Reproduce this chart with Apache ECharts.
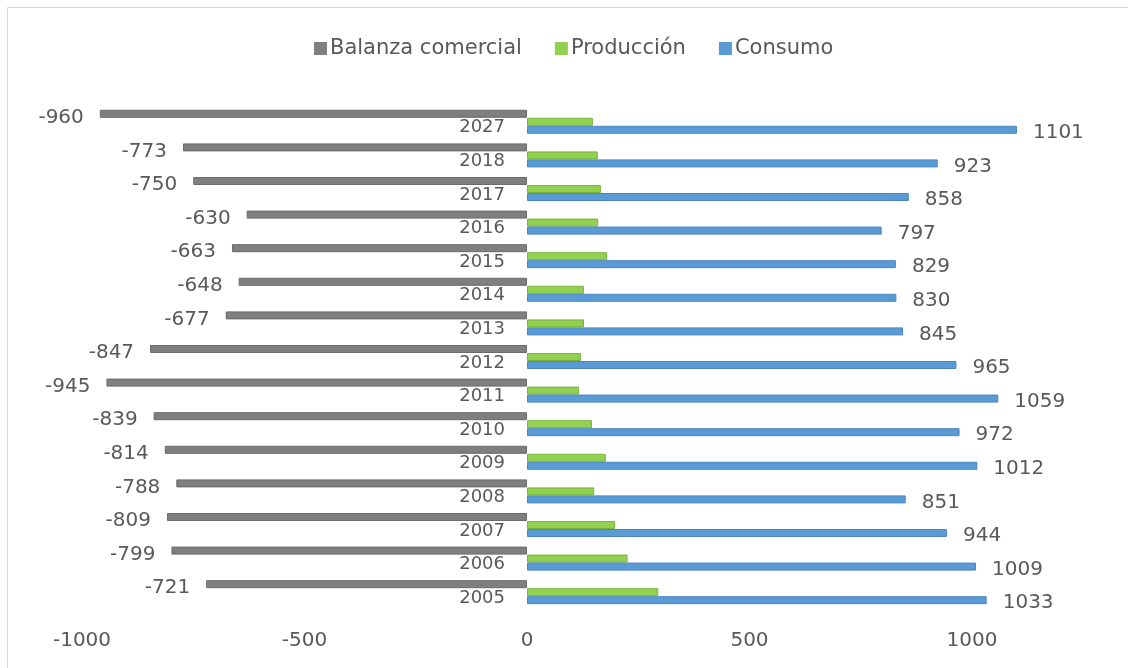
<!DOCTYPE html>
<html>
<head>
<meta charset="utf-8">
<script src="https://cdn.jsdelivr.net/npm/echarts@6/dist/echarts.min.js"></script>
<style>
  html, body { margin: 0; padding: 0; background: #ffffff; }
  #chart { width: 1128px; height: 668px; }
</style>
</head>
<body>
<div id="chart"></div>
<script>
// Years, bottom to top
const years = ['2005', '2006', '2007', '2008', '2009', '2010', '2011', '2012', '2013', '2014', '2015', '2016', '2017', '2018', '2027'];

// Trade balance, production and consumption (kt)
const balanza = [-721, -799, -809, -788, -814, -839, -945, -847, -677, -648, -663, -630, -750, -773, -960];
const produccion = [295, 226, 198, 151, 177, 146, 117, 121, 128, 128, 180, 160, 166, 159, 148];
const consumo = [1033, 1009, 944, 851, 1012, 972, 1059, 965, 845, 830, 829, 797, 858, 923, 1101];

const xTicks = { min: -1000, max: 1200, interval: 500 };

const FONT = '"DejaVu Sans", "Liberation Sans", sans-serif';
const TEXT = '#595959';

const GRID_LEFT = 82;
const GRID_RIGHT = 67;
const plotWidth = 1128 - GRID_LEFT - GRID_RIGHT;
// shift the year axis from the left edge onto the zero line
const zeroShift = plotWidth * (0 - xTicks.min) / (xTicks.max - xTicks.min);

const chart = echarts.init(document.getElementById('chart'), null, { renderer: 'canvas' });

chart.setOption({
  animation: false,
  backgroundColor: '#ffffff',
  textStyle: { fontFamily: FONT },
  graphic: [{
    type: 'rect',
    shape: { x: 7.5, y: 7.5, width: 1200, height: 800 },
    style: { fill: 'none', stroke: '#d9d9d9', lineWidth: 1 },
    silent: true
  }],
  legend: {
    data: ['Balanza comercial', 'Producción', 'Consumo'],
    left: 309,
    top: 33,
    itemWidth: 13,
    itemHeight: 13,
    itemGap: 33,
    icon: 'rect',
    itemStyle: { borderWidth: 0 },
    textStyle: { fontFamily: FONT, fontSize: 21, color: TEXT, padding: [0, 0, 0, -2] }
  },
  grid: { left: GRID_LEFT, right: GRID_RIGHT, top: 105, bottom: 59, containLabel: false },
  xAxis: {
    type: 'value',
    min: xTicks.min,
    max: xTicks.max,
    interval: xTicks.interval,
    axisLine: { show: false },
    axisTick: { show: false },
    splitLine: { show: false },
    axisLabel: {
      showMaxLabel: false,
      formatter: (v) => String(v),
      fontFamily: FONT, fontSize: 20, color: TEXT, margin: 22
    }
  },
  yAxis: {
    type: 'category',
    data: years,
    offset: -zeroShift,
    axisLine: { show: false, onZero: false },
    axisTick: { show: false },
    axisLabel: {
      fontFamily: FONT, fontSize: 18, color: TEXT, margin: 22,
      verticalAlign: 'top', lineHeight: 12
    }
  },
  series: [
    {
      name: 'Balanza comercial',
      type: 'bar',
      data: balanza,
      barWidth: 8,
      barGap: '0%',
      itemStyle: { color: '#7f7f7f', borderColor: '#6b6b6b', borderWidth: 1 },
      label: { show: true, position: 'left', distance: 16, offset: [0, 4], fontFamily: FONT, fontSize: 20, color: TEXT }
    },
    {
      name: 'Producción',
      type: 'bar',
      data: produccion,
      barWidth: 8,
      barGap: '0%',
      itemStyle: { color: '#92d050', borderColor: '#7ab33c', borderWidth: 1 }
    },
    {
      name: 'Consumo',
      type: 'bar',
      data: consumo,
      barWidth: 8,
      barGap: '0%',
      itemStyle: { color: '#5b9bd5', borderColor: '#4a86bf', borderWidth: 1 },
      label: { show: true, position: 'right', distance: 16, offset: [0, 3], fontFamily: FONT, fontSize: 20, color: TEXT }
    }
  ]
});
</script>
</body>
</html>
